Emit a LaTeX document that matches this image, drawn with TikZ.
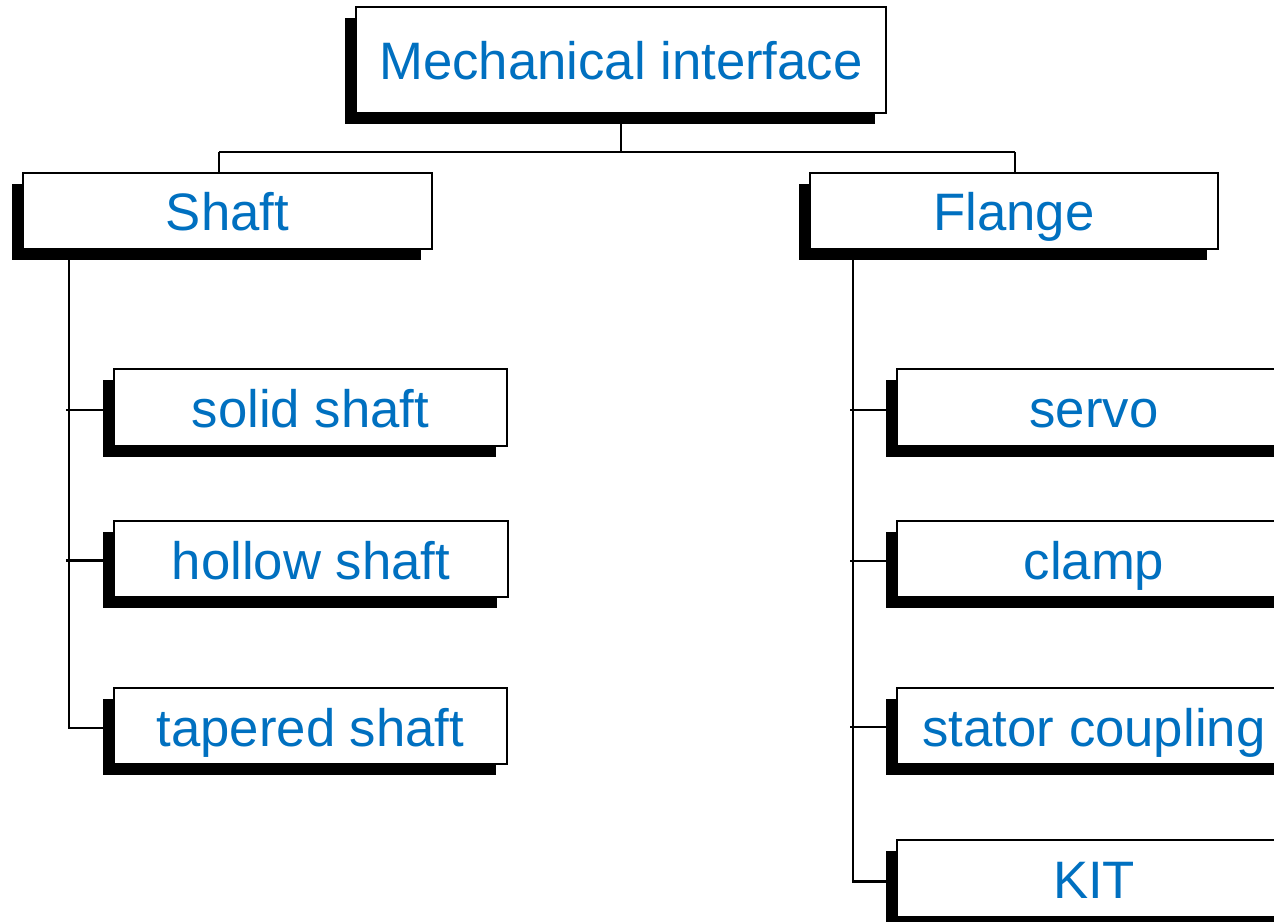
\documentclass[tikz,border=0pt]{standalone}
\usepackage{fontspec}
\setmainfont{Liberation Sans}
\usetikzlibrary{shadows}
\definecolor{kblue}{RGB}{0,112,192}

\begin{document}
\begin{tikzpicture}[x=0.02cm, y=-0.02cm,
  box/.style={draw, fill=white, line width=1.1pt, text=kblue,
    font=\fontsize{30}{36}\selectfont, text height=1.05cm, text depth=0.25cm,
    general shadow={fill=black, shadow xshift=-0.22cm, shadow yshift=-0.22cm}},
  link/.style={line width=1.2pt}]
\clip (0,0) rectangle (1274,922);
\fill[white] (0,0) rectangle (1274,922);

\node[box, minimum width=10.6cm, minimum height=2.12cm] (mech) at (621,60) {Mechanical interface};
\node[box, minimum width=8.18cm, minimum height=1.52cm] (shaft) at (227.5,211) {Shaft};
\node[box, minimum width=8.16cm, minimum height=1.52cm] (flange) at (1014,211) {Flange};

\node[box, minimum width=7.86cm, minimum height=1.5cm] (solid) at (310.5,407.5) {solid shaft};
\node[box, minimum width=7.88cm, minimum height=1.52cm] (hollow) at (311,559) {hollow shaft};
\node[box, minimum width=7.86cm, minimum height=1.52cm] (tapered) at (310.5,726) {tapered shaft};

\node[box, minimum width=7.88cm, minimum height=1.5cm] (servo) at (1094,407.5) {servo};
\node[box, minimum width=7.88cm, minimum height=1.52cm] (clamp) at (1094,559) {clamp};
\node[box, minimum width=7.88cm, minimum height=1.52cm] (stator) at (1094,726) {stator coupling};
\node[box, minimum width=7.88cm, minimum height=1.54cm] (kit) at (1094,878.5) {KIT};

% top level bus
\coordinate (busL) at (219,152);
\coordinate (busR) at (1015,152);
\draw[link] (mech.south) -- (mech.south |- busL);
\draw[link] (busL) -- (busR);
\draw[link] (busL) -- (busL |- shaft.north);
\draw[link] (busR) -- (busR |- flange.north);

% shaft branch
\coordinate (sspine) at (69,0);
\draw[link] (sspine |- shaft.south) -- ([yshift=-0.04cm]sspine |- tapered.west) -- ([yshift=-0.04cm]tapered.west);
\draw[link] ([yshift=-0.05cm]solid.west) -- ([xshift=-0.06cm,yshift=-0.05cm]sspine |- solid.west);
\draw[link] ([yshift=-0.03cm]hollow.west) -- ([xshift=-0.06cm,yshift=-0.03cm]sspine |- hollow.west);

% flange branch
\coordinate (fspine) at (853,0);
\draw[link] (fspine |- flange.south) -- ([yshift=-0.06cm]fspine |- kit.west) -- ([yshift=-0.06cm]kit.west);
\draw[link] ([yshift=-0.05cm]servo.west) -- ([xshift=-0.06cm,yshift=-0.05cm]fspine |- servo.west);
\draw[link] ([yshift=-0.04cm]clamp.west) -- ([xshift=-0.06cm,yshift=-0.04cm]fspine |- clamp.west);
\draw[link] ([yshift=-0.02cm]stator.west) -- ([xshift=-0.06cm,yshift=-0.02cm]fspine |- stator.west);
\end{tikzpicture}
\end{document}
